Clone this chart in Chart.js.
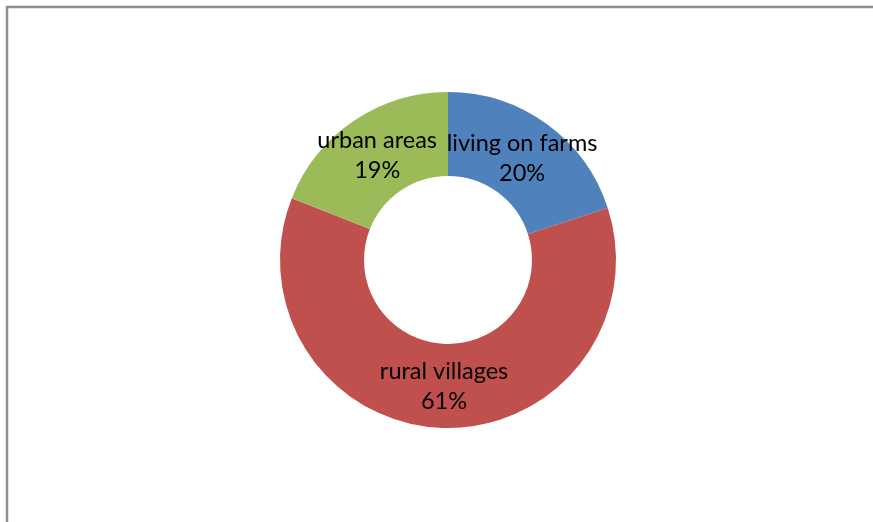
<!DOCTYPE html>
<html>
<head>
<meta charset="utf-8">
<script src="https://cdn.jsdelivr.net/npm/chart.js@4"></script>
<style>
  html, body { margin: 0; padding: 0; background: #fff; }
  #wrap { width: 873px; height: 522px; }
</style>
</head>
<body>
<div id="wrap"><canvas id="donutChart"></canvas></div>
<script>
const categories = ["living on farms", "rural villages", "urban areas"];
const shares = [20, 61, 19];
const colors = ["#4F81BD", "#C0504D", "#9BBB59"];

// frame lines (top + left only, as in the source image)
const framePlugin = {
  id: "frame",
  beforeDraw(chart) {
    const ctx = chart.ctx;
    ctx.save();
    ctx.strokeStyle = "#8e8e8e";
    ctx.lineWidth = 2.5;
    ctx.beginPath();
    ctx.moveTo(7, chart.height);
    ctx.lineTo(7, 7);
    ctx.lineTo(chart.width, 7);
    ctx.stroke();
    ctx.restore();
  },
};

// category name + percent in the middle of each ring segment
const labelPlugin = {
  id: "sliceLabels",
  afterDatasetsDraw(chart) {
    const ctx = chart.ctx;
    const meta = chart.getDatasetMeta(0);
    ctx.save();
    ctx.fillStyle = "#000";
    ctx.font = "23.5px Lato, 'Open Sans', sans-serif";
    ctx.textAlign = "center";
    ctx.textBaseline = "middle";
    meta.data.forEach((arc, i) => {
      const p = arc.getCenterPoint();
      ctx.fillText(categories[i], p.x, p.y - 15);
      ctx.fillText(shares[i] + "%", p.x, p.y + 15);
    });
    ctx.restore();
  },
};

const ctx = document.getElementById("donutChart").getContext("2d");
new Chart(ctx, {
  type: "doughnut",
  data: {
    labels: categories,
    datasets: [
      {
        data: shares,
        backgroundColor: colors,
        borderWidth: 0,
      },
    ],
  },
  options: {
    responsive: true,
    maintainAspectRatio: false,
    animation: false,
    cutout: "50%",
    layout: {
      padding: { top: 92, bottom: 94, left: 23, right: 0 },
    },
    plugins: {
      legend: { display: false },
      tooltip: { enabled: false },
    },
  },
  plugins: [framePlugin, labelPlugin],
});
</script>
</body>
</html>
